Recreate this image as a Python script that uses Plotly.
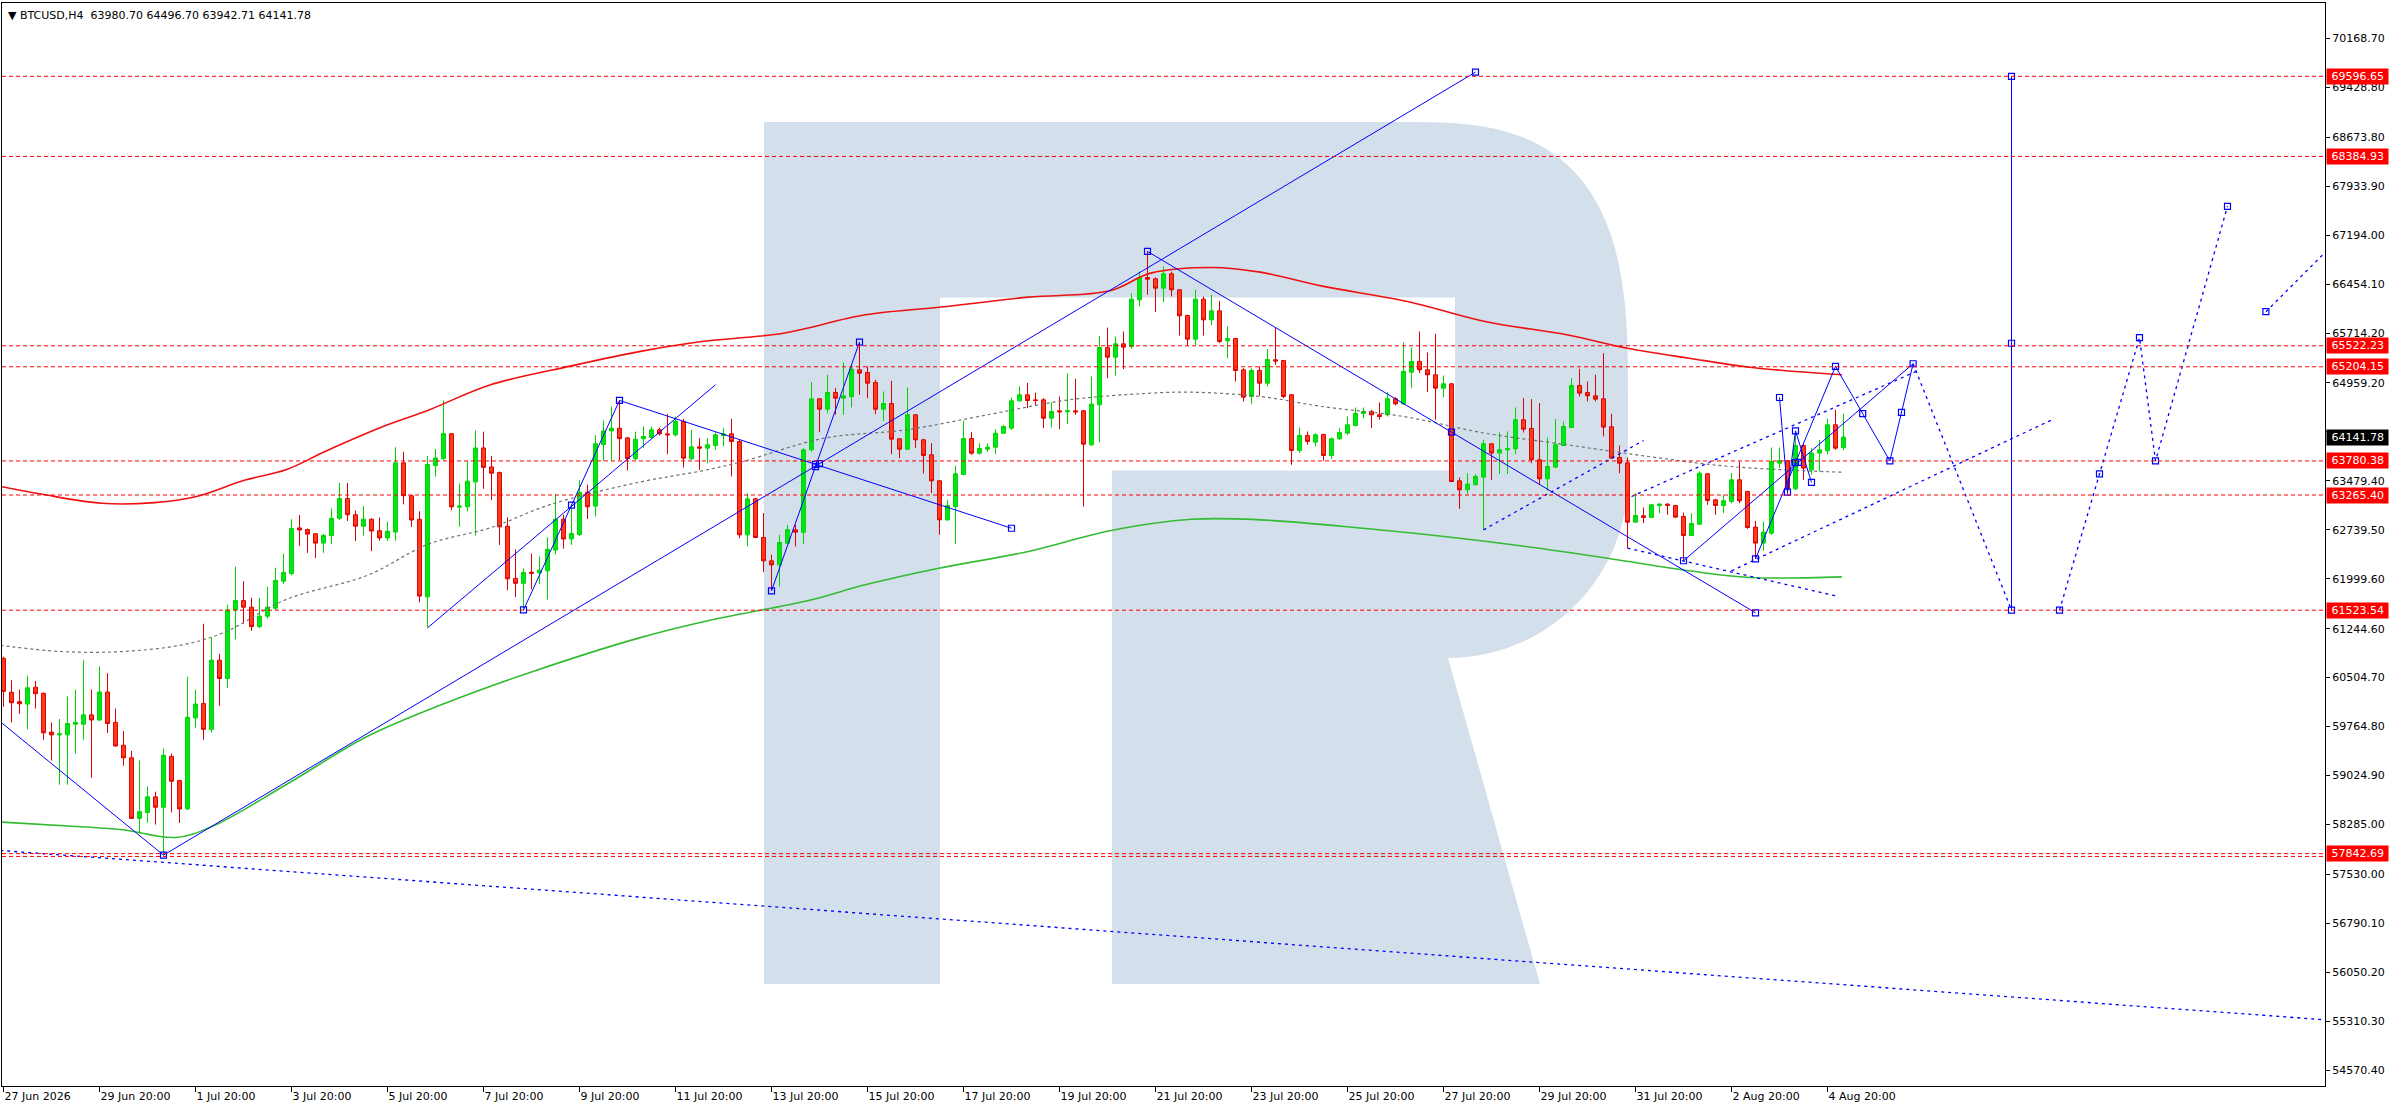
import math
import plotly.graph_objects as go

# ---- candles (H4 bars, bar 0 = 27 Jun 2026 20:00) ----
opens = [60795, 60282, 60140, 60104, 60360, 60266, 59680, 59638, 59638, 59800,
         59800, 59941, 59863, 60287, 59826, 59481, 59292, 58376, 58466, 58701,
         58544, 59313, 58947, 58518, 59894, 60114, 59722, 60768, 60491, 61527,
         61669, 61569, 61276, 61433, 61553, 61962, 62077, 62768, 62742, 62679,
         62538, 62653, 62914, 63213, 62967, 62794, 62899, 62726, 62616, 62705,
         63752, 63255, 62899, 61726, 63710, 63815, 64192, 63082, 63087, 63464,
         63977, 63689, 63605, 62794, 62004, 61930, 62098, 62088, 62119, 62433,
         62899, 62600, 62669, 63307, 63098, 64029, 64234, 64275, 64129, 63815,
         64115, 64135, 64251, 64190, 64175, 64377, 63812, 63994, 63974, 64014,
         64165, 64190, 64074, 62663, 63207, 62623, 62270, 62209, 62537, 62739,
         62703, 63948, 64720, 64563, 64815, 64730, 64755, 65158, 65118, 64967,
         64563, 64649, 64115, 63958, 64478, 64100, 63873, 63480, 62890, 63091,
         63575, 64120, 63898, 63958, 63989, 64200, 64276, 64689, 64780, 64704,
         64704, 64427, 64538, 64523, 64538, 64538, 64024, 64629, 65496, 65350,
         65551, 65511, 66217, 66554, 66534, 66393, 66610, 66368, 65980, 65622,
         66227, 65914, 66050, 65597, 65632, 65158, 64755, 65149, 64957, 65310,
         65300, 64781, 63939, 64166, 64065, 64181, 63863, 64115, 64201, 64317,
         64498, 64529, 64478, 64478, 64720, 64644, 65123, 65285, 65159, 65083,
         64881, 64947, 63480, 63344, 63420, 63536, 64040, 63899, 63949, 63964,
         64403, 64272, 63798, 63510, 63687, 64014, 64287, 64922, 64816, 64765,
         64720, 64297, 63833, 63752, 62855, 62951, 62926, 63107, 63127, 63107,
         62941, 62654, 62825, 63586, 63193, 63107, 63168, 63495, 63319, 62780,
         62538, 62689, 63747, 63783, 63359, 64014, 63646, 63899, 63934, 64327,
         63980.70]
highs = [60821, 60465, 60324, 60533, 60455, 60280, 59826, 59879, 60219, 60324,
         60768, 60324, 60674, 60570, 60036, 59696, 59397, 59250, 58858, 58779,
         59434, 59355, 58960, 60517, 60324, 61318, 61109, 60863, 61606, 62182,
         61962, 61711, 61711, 61878, 62166, 62381, 62899, 62962, 62758, 62690,
         62679, 63061, 63448, 63448, 63030, 63098, 62914, 62925, 62862, 63988,
         63919, 63265, 63019, 63857, 63961, 64694, 64200, 63438, 63778, 64239,
         64223, 63857, 63621, 62930, 62444, 62156, 62381, 62338, 62627, 63281,
         62967, 63124, 63490, 63422, 64171, 64391, 64600, 64694, 64145, 64223,
         64301, 64301, 64286, 64493, 64452, 64417, 64251, 64125, 64125, 64216,
         64276, 64417, 64100, 63293, 63217, 62991, 62361, 62663, 62814, 62814,
         63974, 64972, 64730, 65083, 64881, 65269, 65244, 65576, 65209, 65007,
         64830, 64992, 64125, 64891, 64488, 64115, 64049, 63490, 63192, 63706,
         64387, 64216, 64049, 64049, 64261, 64326, 64740, 64906, 64961, 64815,
         64730, 64664, 64755, 65108, 65022, 64553, 65057, 65672, 65798, 65662,
         65738, 66317, 66645, 66948, 66554, 66721, 66645, 66380, 65990, 66368,
         66267, 66292, 66201, 65813, 65637, 65183, 65183, 65209, 65471, 65789,
         65305, 64791, 64287, 64226, 64201, 64191, 64135, 64277, 64453, 64589,
         64589, 64554, 64665, 64821, 64745, 65572, 65496, 65738, 65421, 65703,
         65073, 64957, 63531, 63596, 63581, 64100, 64050, 64211, 64226, 64589,
         64730, 64715, 64655, 64135, 64413, 64377, 65033, 65174, 64982, 65083,
         65411, 64493, 64014, 63833, 63294, 63077, 63132, 63142, 63142, 63117,
         63001, 62991, 63621, 63596, 63208, 63269, 63596, 63772, 63329, 62875,
         62865, 63984, 63984, 63798, 64186, 64035, 63974, 64100, 64418, 64554,
         64496.70]
lows = [60062, 59826, 59957, 59722, 60036, 59564, 59250, 58884, 58884, 59355,
        59564, 58989, 59850, 59669, 59460, 59172, 58370, 58151, 58308, 58282,
        57820, 58466, 58308, 58505, 59748, 59564, 59669, 60078, 60350, 61082,
        61318, 61213, 61250, 61397, 61527, 61920, 62051, 62496, 62391, 62313,
        62391, 62522, 62888, 62873, 62569, 62653, 62417, 62574, 62569, 62574,
        63124, 62784, 61643, 61266, 63543, 63794, 63035, 62784, 63019, 62653,
        63359, 63187, 62511, 61826, 61721, 61527, 61841, 61920, 61684, 62365,
        62454, 62511, 62642, 62904, 62941, 63778, 63778, 63794, 63637, 63794,
        63974, 64125, 64165, 63883, 64150, 63681, 63797, 63646, 63747, 63948,
        63999, 63545, 62613, 62487, 62613, 62098, 61816, 61882, 62522, 62487,
        62522, 63923, 64216, 64503, 64478, 64478, 64589, 64780, 64730, 64488,
        64387, 63883, 63822, 63948, 63974, 63590, 63293, 62663, 62875, 62522,
        63570, 63873, 63873, 63913, 63883, 64195, 64251, 64679, 64578, 64629,
        64276, 64286, 64261, 64336, 64478, 63091, 64009, 64059, 65032, 65072,
        65168, 65476, 66116, 66292, 66030, 66181, 66267, 65677, 65521, 65536,
        65677, 65839, 65561, 65335, 64982, 64679, 64639, 64765, 64907, 65234,
        64730, 63722, 63899, 64025, 63999, 63783, 63813, 64100, 64176, 64302,
        64428, 64277, 64403, 64453, 64619, 64629, 64881, 65108, 64821, 64403,
        64745, 63460, 63057, 63284, 63410, 62739, 63495, 63581, 63581, 63883,
        64211, 63747, 63430, 63329, 63672, 64009, 64277, 64755, 64680, 64680,
        64151, 63815, 63596, 62462, 62850, 62840, 62916, 62991, 62966, 62916,
        62270, 62645, 62815, 63117, 62966, 62991, 63142, 63142, 62754, 62300,
        62422, 62664, 63672, 63269, 63344, 63495, 63571, 63621, 63883, 63949,
        63942.71]
closes = [60297, 60125, 60109, 60350, 60261, 59669, 59638, 59654, 59810, 59826,
          59941, 59863, 60287, 59810, 59470, 59292, 58376, 58476, 58701, 58544,
          59329, 58937, 58518, 59905, 60104, 59722, 60768, 60491, 61527, 61669,
          61569, 61276, 61433, 61569, 61972, 62093, 62758, 62737, 62674, 62538,
          62653, 62914, 63213, 62967, 62794, 62899, 62721, 62616, 62716, 63752,
          63255, 62888, 61737, 63726, 63825, 64192, 63087, 63098, 63475, 63977,
          63684, 63595, 62784, 61998, 61930, 62093, 62082, 62129, 62444, 62899,
          62600, 62684, 63307, 63087, 64040, 64234, 64275, 64118, 63815, 64108,
          64150, 64251, 64190, 64175, 64377, 63822, 63994, 63974, 64024, 64175,
          64190, 64074, 62663, 63207, 62623, 62270, 62209, 62547, 62739, 62703,
          63948, 64720, 64563, 64815, 64730, 64765, 65168, 65108, 64956, 64563,
          64649, 64110, 63958, 64478, 64100, 63863, 63480, 62890, 63107, 63585,
          64120, 63898, 63969, 63989, 64200, 64301, 64689, 64780, 64694, 64694,
          64427, 64528, 64523, 64538, 64523, 64034, 64639, 65496, 65350, 65551,
          65501, 66227, 66554, 66529, 66393, 66610, 66368, 65975, 65622, 66227,
          65914, 66050, 65587, 65632, 65148, 64745, 65148, 64957, 65315, 65290,
          64755, 63939, 64166, 64075, 64176, 63863, 64115, 64211, 64327, 64498,
          64529, 64478, 64453, 64720, 64644, 65134, 65285, 65159, 65083, 64881,
          64947, 63470, 63344, 63430, 63546, 64040, 63899, 63949, 63969, 64403,
          64261, 63798, 63510, 63697, 64025, 64302, 64922, 64806, 64765, 64715,
          64292, 63823, 63747, 62855, 62956, 62926, 63117, 63127, 63107, 62931,
          62654, 62835, 63596, 63183, 63107, 63178, 63495, 63178, 62775, 62538,
          62704, 63772, 63783, 63359, 64014, 63672, 63899, 63949, 64327, 63974,
          64141.78]
bars = list(range(len(opens)))

# ---- indicator lines (bar, price) ----
upper_band_x = [-0.4, 4.7, 12.3, 18.9, 24, 30.2, 35.3, 40.4, 48, 53.1, 60.8, 71, 79.6, 87.3,
                97.5, 107.7, 117.9, 128.1, 138.3, 143.4, 151.1, 157.1, 165, 175.5, 185.2,
                195.4, 203, 210.7, 218.3, 229.8]
upper_band_y = [63396, 63280, 63140, 63150, 63238, 63491, 63647, 63935, 64327, 64548, 64929,
                65218, 65437, 65587, 65712, 65990, 66116, 66257, 66353, 66620, 66706, 66635,
                66420, 66192, 65889, 65688, 65485, 65334, 65198, 65083]
middle_line_x = [-0.4, 7.2, 14.9, 22.5, 27.6, 35.3, 45.5, 53.1, 60.8, 68.4, 79.6, 87.3, 92.4,
                 102.6, 112.8, 123, 133.2, 143.4, 148.5, 157.1, 164.8, 175, 185.2, 195.4,
                 205.6, 215.8, 229.8]
middle_line_y = [60993, 60899, 60899, 61003, 61188, 61684, 62051, 62522, 62768, 63123, 63463,
                 63631, 63772, 64125, 64251, 64478, 64705, 64805, 64820, 64755, 64604, 64452,
                 64200, 64025, 63848, 63697, 63610]
lower_band_x = [-0.4, 10.2, 14.9, 21.5, 26.1, 35.3, 45.5, 55.7, 65.9, 79.6, 89, 100.5, 107.7,
                116.9, 128.1, 138.3, 148.5, 157.1, 169.9, 180.1, 190.3, 200.5, 210.7, 218.3,
                229.8]
lower_band_y = [58320, 58245, 58204, 58087, 58255, 58884, 59617, 60140, 60586, 61109, 61390,
                61666, 61907, 62158, 62411, 62724, 62899, 62890, 62763, 62638, 62487, 62310,
                62119, 62018, 62028]

# ---- horizontal levels ----
levels = [69596.65, 68384.93, 65522.23, 65204.15, 63780.38, 63265.40, 61523.54, 57842.69]
extra_levels = [57800.0]
last_price = 64141.78

# ---- drawn objects (bar, price) ----
solid_lines = [
    [(-0.4, 59837), (20, 57820)],
    [(20, 57820), (184, 69660)],
    [(53, 61256), (89, 64932)],
    [(65, 61527), (77, 64695)],
    [(77, 64695), (126, 62763)],
    [(96, 61817), (107, 65576)],
    [(143, 66948), (219, 61484)],
    [(210, 62271), (238.7, 65250)],
    [(219, 62300), (229, 65210)],
    [(222, 64740), (223, 63308), (224, 64236), (226, 63455)],
    [(229, 65210), (235.8, 63780), (238.7, 65250)],
    [(251, 61523.54), (251, 69596.65)],
]
dotted_lines = [
    [(-0.4, 57890), (290.2, 55330)],
    [(185, 62739), (205, 64090)],
    [(203, 62462), (229, 61741)],
    [(216, 62119), (256, 64400)],
    [(203.5, 63243), (239.4, 65150)],
    [(238.7, 65250), (251, 61523.54)],
    [(257, 61523.54), (267, 65644), (269, 63780.38), (278, 67631)],
    [(282.8, 66037), (292, 67152)],
]
handles = [(20, 57820), (102, 63740), (184, 69660), (65, 61527), (71, 63111), (77, 64695),
           (101.5, 63729), (126, 62763), (96, 61817), (101.5, 63696), (107, 65576),
           (143, 66948), (181, 64216), (219, 61484), (210, 62271), (224.35, 63760),
           (238.7, 65250), (219, 62300), (224, 63755), (229, 65210), (222, 64740),
           (223, 63308), (224, 64236), (226, 63455), (232.4, 64495), (235.8, 63780),
           (237.25, 64515), (251, 61523.54), (251, 65560), (251, 69596.65),
           (257, 61523.54), (262, 63584), (267, 65644), (269, 63780.38), (278, 67631),
           (282.8, 66037)]

# ---- axes ----
price_ticks = [70168.70, 69428.80, 68673.80, 67933.90, 67194.00, 66454.10, 65714.20, 64959.20,
               64219.30, 63479.40, 62739.50, 61999.60, 61244.60, 60504.70, 59764.80, 59024.90,
               58285.00, 57530.00, 56790.10, 56050.20, 55310.30, 54570.40]
hidden_price_ticks = [64219.30]  # covered by the last-price label
time_tick_bars = [0, 12, 24, 36, 48, 60, 72, 84, 96, 108, 120, 132, 144, 156, 168, 180, 192,
                  204, 216, 228]
time_tick_labels = ['27 Jun 2026', '29 Jun 20:00', '1 Jul 20:00', '3 Jul 20:00', '5 Jul 20:00',
                    '7 Jul 20:00', '9 Jul 20:00', '11 Jul 20:00', '13 Jul 20:00', '15 Jul 20:00',
                    '17 Jul 20:00', '19 Jul 20:00', '21 Jul 20:00', '23 Jul 20:00',
                    '25 Jul 20:00', '27 Jul 20:00', '29 Jul 20:00', '31 Jul 20:00',
                    '2 Aug 20:00', '4 Aug 20:00']

W, H = 2396, 1110
PL, PT, PW, PH = 2, 3, 2323, 1083
FONT = 'DejaVu Sans'


def joined(segments):
    xs, ys = [], []
    for seg in segments:
        xs += [p[0] for p in seg] + [None]
        ys += [p[1] for p in seg] + [None]
    return xs, ys


def paper(px, py):
    return (px - PL) / PW, (PT + PH - py) / PH


def logo_path():
    pts = [(764, 122), (1400, 122)]
    # rounded top-right of the bowl
    for k in range(1, 31):
        t = math.radians(90 - 3 * k)
        pts.append((1400 + 228 * math.cos(t) ** (2 / 3), 400 - 278 * math.sin(t) ** (2 / 3)))
    pts.append((1628, 478))
    for k in range(1, 31):
        a = math.radians(3 * k)
        pts.append((1448 + 180 * math.cos(a), 478 + 180 * math.sin(a)))
    pts += [(1540, 984), (1112, 984), (1112, 470.5), (1455, 470.5), (1455, 297.5),
            (940, 297.5), (940, 984), (764, 984)]
    s = ''
    for i, (x, y) in enumerate(pts):
        u, v = paper(x, y)
        s += ('M' if i == 0 else 'L') + '%.5f,%.5f ' % (u, v)
    return s + 'Z'


fig = go.Figure()

fig.add_trace(go.Candlestick(
    x=bars, open=opens, high=highs, low=lows, close=closes,
    increasing=dict(line=dict(color='#00d400', width=1), fillcolor='#00e61a'),
    decreasing=dict(line=dict(color='#dd0000', width=1), fillcolor='#ff3c1e'),
    whiskerwidth=0, hoverinfo='skip', showlegend=False,
))

fig.add_trace(go.Scatter(x=upper_band_x, y=upper_band_y, mode='lines',
                         line=dict(color='#ee1111', width=1.6, shape='spline'),
                         hoverinfo='skip', showlegend=False))
fig.add_trace(go.Scatter(x=lower_band_x, y=lower_band_y, mode='lines',
                         line=dict(color='#33bb33', width=1.6, shape='spline'),
                         hoverinfo='skip', showlegend=False))
fig.add_trace(go.Scatter(x=middle_line_x, y=middle_line_y, mode='lines',
                         line=dict(color='#707070', width=1.2, shape='spline', dash='3px,3px'),
                         hoverinfo='skip', showlegend=False))

# horizontal levels
for lv in levels + extra_levels:
    fig.add_shape(type='line', xref='paper', x0=0, x1=1, yref='y', y0=lv, y1=lv,
                  line=dict(color='#ff0000', width=1, dash='4px,3px'))

sx, sy = joined(solid_lines)
fig.add_trace(go.Scatter(x=sx, y=sy, mode='lines', line=dict(color='#0000ff', width=1),
                         hoverinfo='skip', showlegend=False))
dx, dy = joined(dotted_lines)
fig.add_trace(go.Scatter(x=dx, y=dy, mode='lines',
                         line=dict(color='#0000ff', width=1.3, dash='3px,4px'),
                         hoverinfo='skip', showlegend=False))
fig.add_trace(go.Scatter(x=[h[0] for h in handles], y=[h[1] for h in handles], mode='markers',
                         marker=dict(symbol='square-open', size=6, color='#0000ff',
                                     line=dict(width=1.2, color='#0000ff')),
                         hoverinfo='skip', showlegend=False))

# watermark
fig.add_shape(type='path', xref='paper', yref='paper', path=logo_path(),
              fillcolor='rgb(211,223,235)', line=dict(width=0), layer='below')

annotations = []
for lv in levels:
    annotations.append(dict(xref='paper', x=1, yref='y', y=lv, xanchor='left', yanchor='middle',
                            xshift=1, text='\u00a0%.2f\u00a0' % lv, showarrow=False,
                            bgcolor='#ff0000', borderpad=1,
                            font=dict(family=FONT, size=11, color='white')))
annotations.append(dict(xref='paper', x=1, yref='y', y=last_price, xanchor='left',
                        yanchor='middle', xshift=1, text='\u00a0%.2f\u00a0' % last_price,
                        showarrow=False, bgcolor='#000000', borderpad=1,
                        font=dict(family=FONT, size=11, color='white')))
annotations.append(dict(xref='paper', yref='paper', x=0, y=1, xanchor='left', yanchor='top',
                        xshift=4, yshift=-4,
                        text='\u25bc BTCUSD,H4\u00a0\u00a0%.2f %.2f %.2f %.2f' % (
                            opens[-1], highs[-1], lows[-1], closes[-1]),
                        showarrow=False, font=dict(family=FONT, size=11, color='black')))

fig.update_layout(
    width=W, height=H,
    margin=dict(l=PL, r=W - PL - PW, t=PT, b=H - PT - PH, autoexpand=False),
    paper_bgcolor='white', plot_bgcolor='white',
    showlegend=False,
    annotations=annotations,
    xaxis=dict(range=[-0.1875, 290.1875], tickmode='array', tickvals=time_tick_bars,
               ticktext=time_tick_labels, ticks='outside', ticklen=5, tickcolor='black',
               ticklabelposition='outside right', showgrid=False, zeroline=False,
               showline=True, mirror=True, linecolor='black', linewidth=1,
               rangeslider=dict(visible=False),
               tickfont=dict(family=FONT, size=11, color='black')),
    yaxis=dict(range=[54329, 70705], side='right', tickmode='array', tickvals=price_ticks,
               ticktext=['' if t in hidden_price_ticks else '%.2f' % t for t in price_ticks],
               ticks='outside', ticklen=4,
               tickcolor='black', showgrid=False, zeroline=False, showline=True, mirror=True,
               linecolor='black', linewidth=1,
               tickfont=dict(family=FONT, size=11, color='black')),
)

fig.write_html("out.html", config={'displayModeBar': False},
               post_script="document.body.style.margin='0';")
